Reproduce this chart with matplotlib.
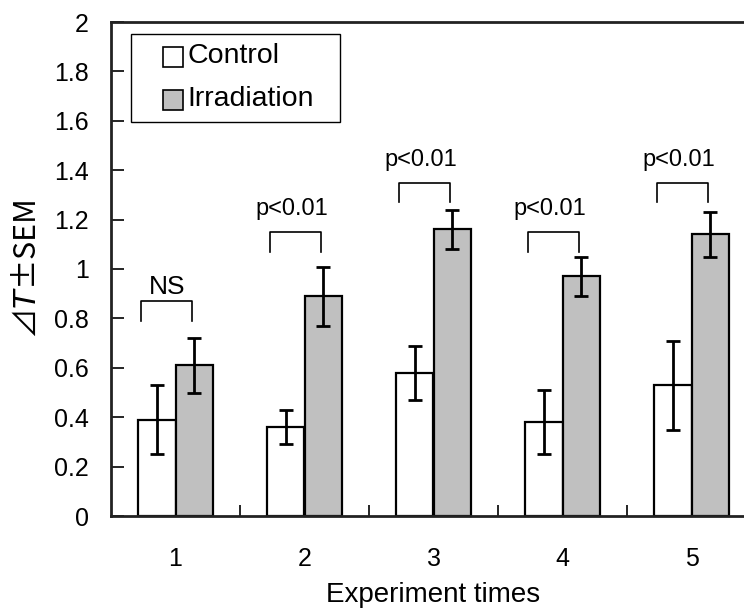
import numpy as np
import matplotlib
matplotlib.use('Agg')
import matplotlib.pyplot as plt
from matplotlib.patches import Patch, Rectangle
from matplotlib.legend_handler import HandlerPatch

plt.rcParams['font.family'] = ['Liberation Sans', 'Noto Sans CJK JP', 'DejaVu Sans']
plt.rcParams['mathtext.fontset'] = 'dejavusans'

#Data
groups = ['1', '2', '3', '4', '5']
control = [0.39, 0.36, 0.58, 0.38, 0.53]
control_err = [0.14, 0.07, 0.11, 0.13, 0.18]
irradiation = [0.61, 0.89, 1.16, 0.97, 1.14]
irradiation_err = [0.11, 0.12, 0.08, 0.08, 0.09]
sig_labels = ['NS', 'p<0.01', 'p<0.01', 'p<0.01', 'p<0.01']
bracket_tops = [0.87, 1.15, 1.35, 1.15, 1.35]

fig = plt.figure(figsize=(7.44, 6.10), dpi=100)
#axes runs off the right edge like the reference crop
ax = fig.add_axes([111/744, 94/610, 645/744, 494/610])

x = np.arange(len(groups))
w = 0.287
ekw = dict(elinewidth=2, capsize=4.7, capthick=2, ecolor='black')
ax.bar(x - w/2, control, w, yerr=control_err, color='white', edgecolor='black',
       linewidth=1.6, error_kw=ekw, zorder=2)
ax.bar(x + w/2, irradiation, w, yerr=irradiation_err, color='#c0c0c0', edgecolor='black',
       linewidth=1.6, error_kw=ekw, zorder=2)

#significance brackets
for xi, top, lab in zip(x, bracket_tops, sig_labels):
    l, r = xi - 0.265, xi + 0.13
    ax.plot([l, l, r, r], [top - 0.08, top, top, top - 0.08], color='black', lw=1.2, zorder=3)
    if lab == 'NS':
        ax.text((l + r)/2, top + 0.028, lab, ha='center', va='baseline', fontsize=19)
    else:
        ax.text((l + r)/2 - 0.03, top + 0.069, lab, ha='center', va='baseline', fontsize=17)

ax.set_xlim(-0.5, 4.5)
ax.set_ylim(0, 2)
ax.set_yticks(np.arange(0, 2.01, 0.2))
ax.set_yticklabels(['0', '0.2', '0.4', '0.6', '0.8', '1', '1.2', '1.4', '1.6', '1.8', '2'])
ax.set_xticks(x)
ax.set_xticklabels(groups)
ax.set_xticks(np.arange(0.5, 4.0, 1.0), minor=True)
ax.tick_params(axis='x', which='major', length=0, pad=22, labelsize=18)
ax.tick_params(axis='x', which='minor', direction='in', length=8, width=1.2)
ax.tick_params(axis='y', direction='in', length=9, width=1.2, pad=16, labelsize=18)

for s in ax.spines.values():
    s.set_linewidth(2)
    s.set_color('#222222')

ax.set_xlabel('Experiment times', fontsize=20, labelpad=8)
ax.set_ylabel('⊿$\\mathit{T}$±SEM', fontsize=22, labelpad=8, family=['Noto Sans CJK JP', 'DejaVu Sans'])

#legend keys: small squares sitting at the right of the handle box, a touch lower
def key_square(legend, orig_handle, xdescent, ydescent, width, height, fontsize):
    return Rectangle((width - height - xdescent, -ydescent - 0.2*height), height, height)

handles = [Patch(facecolor='white', edgecolor='black', linewidth=1.2),
           Patch(facecolor='#c0c0c0', edgecolor='black', linewidth=1.2)]
leg = ax.legend(handles, ['Control', 'Irradiation'], loc='upper left',
                bbox_to_anchor=(0.031, 0.5, 0.324, 0.4757), mode='expand',
                borderaxespad=0, fontsize=20.5,
                handlelength=1.5, handleheight=0.7, handletextpad=0.15,
                fancybox=False, framealpha=1, edgecolor='black', borderpad=0.33,
                labelspacing=0.59,
                handler_map={Patch: HandlerPatch(patch_func=key_square)})
leg.get_frame().set_linewidth(1)

fig.savefig('out.png', dpi=100)
